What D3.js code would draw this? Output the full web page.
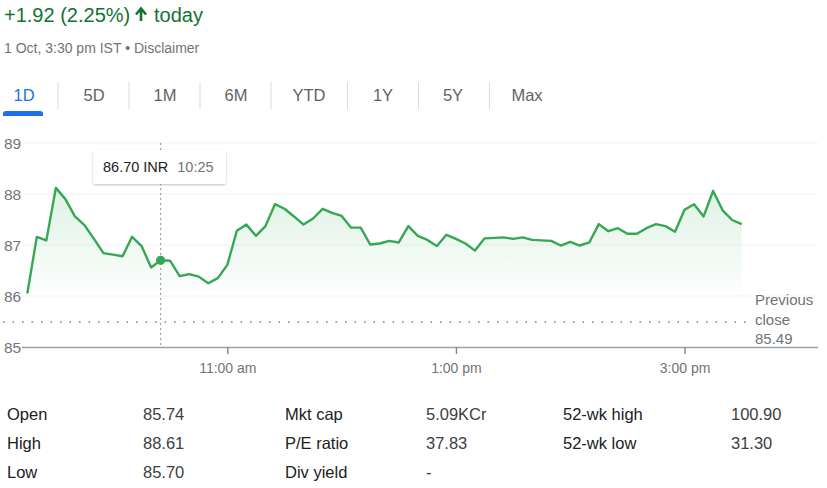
<!DOCTYPE html>
<html>
<head>
<meta charset="utf-8">
<script src="https://cdn.jsdelivr.net/npm/d3@7"></script>
<style>
  html, body { margin: 0; padding: 0; background: #fff; }
  body { width: 827px; height: 488px; overflow: hidden; font-family: "Liberation Sans", Arial, sans-serif; }
  svg { display: block; }
</style>
</head>
<body>
<svg id="chart" width="827" height="488"></svg>
<script>
// ---------- data ----------
const startTime = "09:15";
const endTime = "15:30";
const intervalMinutes = 5;
const prices = [
  86.05, 87.16, 87.09, 88.12, 87.90, 87.56, 87.39, 87.12, 86.84, 86.81,
  86.78, 87.16, 86.98, 86.56, 86.70, 86.69, 86.39, 86.43, 86.38, 86.25,
  86.35, 86.61, 87.28, 87.40, 87.18, 87.37, 87.80, 87.71, 87.56, 87.40,
  87.52, 87.71, 87.63, 87.57, 87.34, 87.34, 87.01, 87.03, 87.08, 87.05,
  87.37, 87.18, 87.10, 86.98, 87.20, 87.12, 87.03, 86.89, 87.13, 87.14,
  87.15, 87.12, 87.15, 87.10, 87.09, 87.08, 86.99, 87.06, 86.99, 87.05,
  87.41, 87.27, 87.33, 87.22, 87.22, 87.33, 87.41, 87.37, 87.26, 87.69,
  87.80, 87.56, 88.06, 87.68, 87.49, 87.41
];
const previousClose = 85.49;
const yTicks = [85, 86, 87, 88, 89];
const xTickTimes = ["11:00", "13:00", "15:00"];
const xTickLabels = ["11:00 am", "1:00 pm", "3:00 pm"];
const tooltipTime = "10:25";
const tooltipCurrency = "INR";
const tabs = ["1D", "5D", "1M", "6M", "YTD", "1Y", "5Y", "Max"];
const headerChange = "+1.92 (2.25%)";
const headerSub = "1 Oct, 3:30 pm IST \u2022 Disclaimer";
const statLabels1 = ["Open", "High", "Low"];
const statValues1 = ["85.74", "88.61", "85.70"];
const statLabels2 = ["Mkt cap", "P/E ratio", "Div yield"];
const statValues2 = ["5.09KCr", "37.83", "-"];
const statLabels3 = ["52-wk high", "52-wk low"];
const statValues3 = ["100.90", "31.30"];

// ---------- setup ----------
const parse = d3.timeParse("%H:%M");
const t0 = parse(startTime);
const data = prices.map((v, i) => ({ t: d3.timeMinute.offset(t0, i * intervalMinutes), v }));

const svg = d3.select("#chart");
const FONT = "'Liberation Sans', Arial, sans-serif";
const green = "#34a853";
const grey = "#70757a";

const x = d3.scaleTime().domain([parse(startTime), parse(endTime)]).range([27.3, 741.7]);
const y = d3.scaleLinear().domain([85, 89]).range([347, 143]);
const plotLeft = 22, plotRight = 818;

// ---------- header ----------
const hdr = svg.append("text").attr("x", 4).attr("y", 22)
  .attr("font-family", FONT).attr("font-size", 20).attr("fill", "#137333");
hdr.append("tspan").text(headerChange + " ");
svg.append("path")
  .attr("d", "M141,21 L141,10 M136,14.5 L141,8.5 L146,14.5")
  .attr("stroke", "#137333").attr("stroke-width", 2.6).attr("fill", "none");
svg.append("text").attr("x", 154).attr("y", 22)
  .attr("font-family", FONT).attr("font-size", 20).attr("fill", "#137333").text("today");

svg.append("text").attr("x", 4).attr("y", 53)
  .attr("font-family", FONT).attr("font-size", 14).attr("fill", grey).text(headerSub);

// ---------- tabs ----------
const tabCenters = [24, 94, 165, 236, 309, 383, 453, 527];
const sepX = [58, 129, 200, 271, 347.5, 418.5, 489.5];
svg.selectAll(".tab").data(tabs).enter().append("text")
  .attr("x", (d, i) => tabCenters[i]).attr("y", 101)
  .attr("text-anchor", "middle")
  .attr("font-family", FONT).attr("font-size", 16.5)
  .attr("fill", (d, i) => i === 0 ? "#1a73e8" : "#5f6368")
  .text(d => d);
svg.selectAll(".sep").data(sepX).enter().append("line")
  .attr("x1", d => d).attr("x2", d => d).attr("y1", 82).attr("y2", 109)
  .attr("stroke", "#dadce0").attr("stroke-width", 1);
svg.append("path")
  .attr("d", "M3,116 L3,113.5 Q3,111 6,111 L40,111 Q43,111 43,113.5 L43,116 Z")
  .attr("fill", "#1a73e8");

// ---------- gridlines ----------
svg.append("g").selectAll("line").data(yTicks.filter(d => d !== 85)).enter().append("line")
  .attr("x1", plotLeft).attr("x2", plotRight)
  .attr("y1", d => y(d)).attr("y2", d => y(d))
  .attr("stroke", "#f1f3f4").attr("stroke-width", 1);

// y labels via axis
const yAxis = d3.axisRight(y).tickValues(yTicks).tickSize(0).tickPadding(0).tickFormat(d3.format("d"));
const gy = svg.append("g").attr("transform", "translate(4,0)").call(yAxis);
gy.select(".domain").remove();
gy.selectAll("text").attr("font-family", FONT).attr("font-size", 15.5).attr("fill", grey).attr("dy", "0.36em");

// ---------- area + line ----------
const defs = svg.append("defs");
const grad = defs.append("linearGradient").attr("id", "fillGrad")
  .attr("x1", 0).attr("x2", 0).attr("y1", 0).attr("y2", 1);
grad.append("stop").attr("offset", "0%").attr("stop-color", green).attr("stop-opacity", 0.16);
grad.append("stop").attr("offset", "100%").attr("stop-color", green).attr("stop-opacity", 0);

const area = d3.area().x(d => x(d.t)).y0(y(previousClose) - 22).y1(d => y(d.v));
svg.append("path").datum(data).attr("d", area).attr("fill", "url(#fillGrad)");

// previous close dotted line
svg.append("line")
  .attr("x1", 3).attr("x2", 748)
  .attr("y1", y(previousClose)).attr("y2", y(previousClose))
  .attr("stroke", "#80868b").attr("stroke-width", 1.6)
  .attr("stroke-dasharray", "1.6,7.9");

// tooltip crosshair
const tt = parse(tooltipTime);
svg.append("line")
  .attr("x1", x(tt)).attr("x2", x(tt)).attr("y1", 143).attr("y2", 347)
  .attr("stroke", "#9aa0a6").attr("stroke-width", 1.2)
  .attr("stroke-dasharray", "2,3");

const line = d3.line().x(d => x(d.t)).y(d => y(d.v));
svg.append("path").datum(data).attr("d", line)
  .attr("fill", "none").attr("stroke", green).attr("stroke-width", 2.4)
  .attr("stroke-linejoin", "round");

// x axis
svg.append("line").attr("x1", plotLeft).attr("x2", plotRight).attr("y1", 347.5).attr("y2", 347.5)
  .attr("stroke", "#9aa0a6").attr("stroke-width", 1.6);
const xAxis = d3.axisBottom(x).tickValues(xTickTimes.map(parse)).tickSize(7).tickPadding(9)
  .tickFormat((d, i) => xTickLabels[i]);
const gx = svg.append("g").attr("transform", "translate(0,347)").call(xAxis);
gx.select(".domain").remove();
gx.selectAll("line").attr("stroke", "#80868b").attr("stroke-width", 1.4);
gx.selectAll("text").attr("font-family", FONT).attr("font-size", 14).attr("fill", grey);

// Previous close label
const pc = svg.append("text").attr("font-family", FONT).attr("font-size", 15).attr("fill", grey);
["Previous", "close", d3.format(".2f")(previousClose)].forEach((s, i) => {
  pc.append("tspan").attr("x", 755).attr("y", 305 + i * 19.5).text(s);
});

// tooltip point
const tp = data.find(d => +d.t === +tt);
svg.append("circle").attr("cx", x(tp.t)).attr("cy", y(tp.v)).attr("r", 4.6).attr("fill", green);

// tooltip box
const filt = defs.append("filter").attr("id", "shadow").attr("x", "-20%").attr("y", "-30%").attr("width", "140%").attr("height", "170%");
filt.append("feDropShadow").attr("dx", 0).attr("dy", 1).attr("stdDeviation", 1.3).attr("flood-color", "#000").attr("flood-opacity", 0.25);
svg.append("rect").attr("x", 93).attr("y", 150).attr("width", 133).attr("height", 34).attr("rx", 3)
  .attr("fill", "#fff").attr("filter", "url(#shadow)");
const ttText = svg.append("text").attr("x", 103).attr("y", 172).attr("font-family", FONT).attr("font-size", 14.5);
ttText.append("tspan").attr("fill", "#202124").text(d3.format(".2f")(tp.v) + " " + tooltipCurrency);
ttText.append("tspan").attr("fill", grey).attr("dx", 9).text(tooltipTime);

// ---------- stats ----------
const rowY = [420, 449, 478];
function col(labels, xPos, color) {
  svg.append("g").selectAll("text").data(labels).enter().append("text")
    .attr("x", xPos).attr("y", (d, i) => rowY[i])
    .attr("font-family", FONT).attr("font-size", 16.5).attr("fill", color).text(d => d);
}
col(statLabels1, 7, "#202124");
col(statValues1, 143, "#3c4043");
col(statLabels2, 285, "#202124");
col(statValues2, 426, "#3c4043");
col(statLabels3, 563, "#202124");
col(statValues3, 731, "#3c4043");
</script>
</body>
</html>
